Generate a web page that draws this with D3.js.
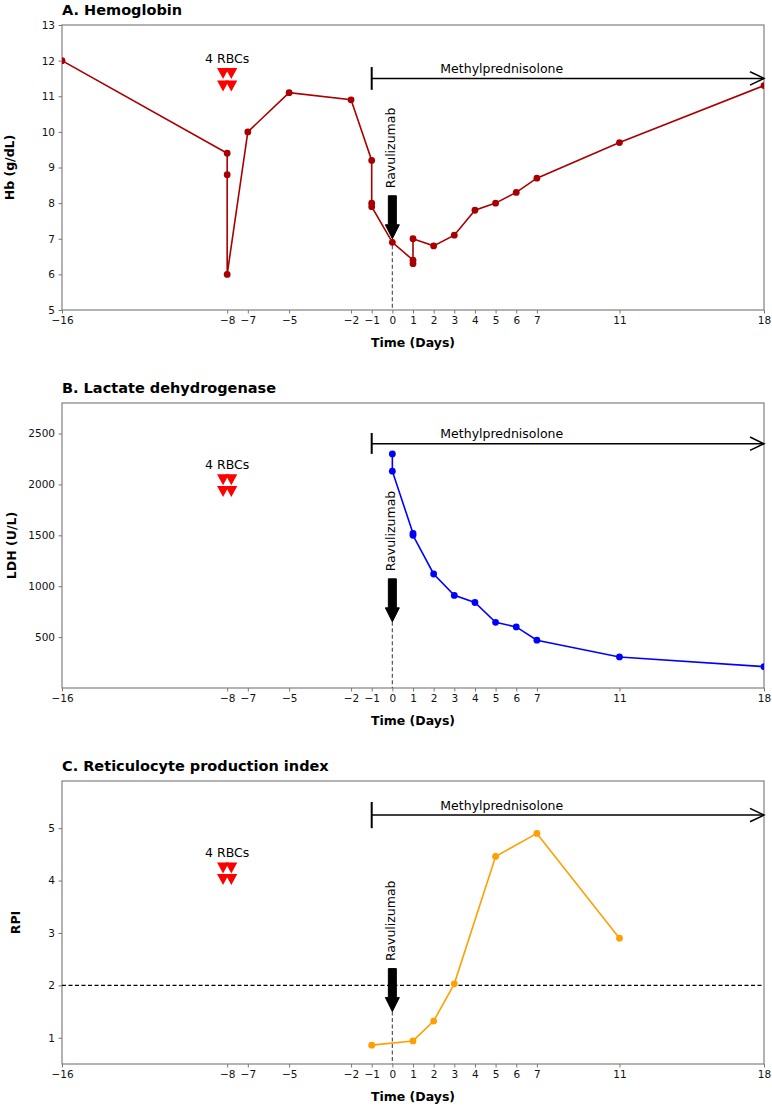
<!DOCTYPE html>
<html>
<head>
<meta charset="utf-8">
<script src="https://cdn.jsdelivr.net/npm/d3@7/dist/d3.min.js"></script>
<style>
  html, body { margin: 0; padding: 0; background: #fff; }
  svg { display: block; font-family: "DejaVu Sans", sans-serif; }
</style>
</head>
<body>
<svg id="chart" width="772" height="1106"></svg>
<script>
// ---------- data ----------
const xTicks = [-16, -8, -7, -5, -2, -1, 0, 1, 2, 3, 4, 5, 6, 7, 11, 18];

const hbDays   = [-16, -8, -8, -8, -7, -5, -2, -1, -1, -1, 0, 1, 1, 1, 2, 3, 4, 5, 6, 7, 11, 18];
const hbValues = [12.0, 9.4, 8.8, 6.0, 10.0, 11.1, 10.9, 9.2, 8.0, 7.9, 6.9, 6.4, 6.3, 7.0, 6.8, 7.1, 7.8, 8.0, 8.3, 8.7, 9.7, 11.3];

const ldhDays   = [0, 0, 1, 1, 2, 3, 4, 5, 6, 7, 11, 18];
const ldhValues = [2300, 2130, 1520, 1500, 1120, 910, 840, 645, 600, 470, 305, 210];

const rpiDays   = [-1, 1, 2, 3, 5, 7, 11];
const rpiValues = [0.86, 0.94, 1.32, 2.03, 4.46, 4.90, 2.90];

const panelTitles = ["A. Hemoglobin", "B. Lactate dehydrogenase", "C. Reticulocyte production index"];
const yLabels     = ["Hb (g/dL)", "LDH (U/L)", "RPI"];
const yDomains    = [[5, 13], [0, 2800], [0.5, 5.9]];
const yTickSets   = [[5, 6, 7, 8, 9, 10, 11, 12, 13], [500, 1000, 1500, 2000, 2500], [1, 2, 3, 4, 5]];

// annotations
const mpStart = -1, mpEnd = 18;                 // Methylprednisolone period (days)
const mpLevels = [11.5, 2400, 5.25];            // arrow level per panel
const mpBars   = [[11.18, 11.82], [2300, 2505], [5.0, 5.5]];
const mpLabelDay = 5.3;
const rbcDay = -8;
const rbcDayOffsets = [-0.2, 0.2];
const rbcRows = [[11.65, 11.3], [2050, 1935], [4.25, 4.03]];
const ravDay = 0;
const ravTips = [7.0, 650, 1.5];
const rpiThreshold = 2;

// ---------- layout ----------
const W = 772;
const left = 62, right = 764;
const panels = [
  {top: 25,  bottom: 310, color: "#a80000", days: hbDays,  values: hbValues},
  {top: 403, bottom: 688, color: "#0000ff", days: ldhDays, values: ldhValues},
  {top: 781, bottom: 1064, color: "#ffa000", days: rpiDays, values: rpiValues}
];
const yLabelX = [9.5, 11.3, 15];

const svg = d3.select("#chart");
const x = d3.scaleLinear().domain([-16, 18]).range([left, right]);
const fmt = d3.format("");

panels.forEach((p, i) => {
  const y = d3.scaleLinear().domain(yDomains[i]).range([p.bottom, p.top]);
  const g = svg.append("g");

  const clipId = "clip" + i;
  svg.append("clipPath").attr("id", clipId).append("rect")
    .attr("x", left).attr("y", p.top).attr("width", right - left).attr("height", p.bottom - p.top);

  // title
  g.append("text").attr("x", left).attr("y", p.top - 10.5)
    .attr("font-size", 14.5).attr("font-weight", "bold").attr("fill", "#000")
    .text(panelTitles[i]);

  // axes
  const xa = g.append("g").attr("transform", `translate(0,${p.bottom})`)
    .call(d3.axisBottom(x).tickValues(xTicks).tickSize(3.5).tickPadding(3.5).tickFormat(fmt));
  const ya = g.append("g").attr("transform", `translate(${left},0)`)
    .call(d3.axisLeft(y).tickValues(yTickSets[i]).tickSize(3.5).tickPadding(3.5).tickFormat(fmt));
  [xa, ya].forEach(a => {
    a.select(".domain").remove();
    a.selectAll(".tick line").attr("stroke", "#666").attr("stroke-width", 0.9);
    a.selectAll(".tick text").attr("font-size", 10.5).attr("fill", "#111")
      .attr("font-family", "DejaVu Sans, sans-serif");
  });

  // frame
  g.append("rect").attr("x", left).attr("y", p.top)
    .attr("width", right - left).attr("height", p.bottom - p.top)
    .attr("fill", "none").attr("stroke", "#808080").attr("stroke-width", 1.2);

  // axis labels
  g.append("text").attr("x", (left + right) / 2).attr("y", p.bottom + 37)
    .attr("text-anchor", "middle").attr("font-size", 12.5).attr("font-weight", "bold")
    .text("Time (Days)");
  g.append("text")
    .attr("transform", `translate(${yLabelX[i] + 4.5},${(p.top + p.bottom) / 2}) rotate(-90)`)
    .attr("text-anchor", "middle").attr("font-size", 12.5).attr("font-weight", "bold")
    .text(yLabels[i]);

  // threshold line (RPI)
  if (i === 2) {
    g.append("line").attr("x1", left).attr("x2", right)
      .attr("y1", y(rpiThreshold)).attr("y2", y(rpiThreshold))
      .attr("stroke", "#000").attr("stroke-width", 1.2).attr("stroke-dasharray", "4,2.5");
  }

  // Ravulizumab dashed line + arrow + label
  const rx = x(ravDay), tipY = y(ravTips[i]);
  g.append("line").attr("x1", rx).attr("x2", rx).attr("y1", tipY).attr("y2", p.bottom)
    .attr("stroke", "#555").attr("stroke-width", 1.2).attr("stroke-dasharray", "4,2.5");
  const L = 43, headL = 14, shaftW = 4, headW = 7;
  const arrowPts = [
    [rx - shaftW, tipY - L], [rx + shaftW, tipY - L], [rx + shaftW, tipY - headL],
    [rx + headW, tipY - headL], [rx, tipY], [rx - headW, tipY - headL], [rx - shaftW, tipY - headL]
  ];
  g.append("path").attr("d", d3.line()(arrowPts) + "Z")
    .attr("fill", "#000").attr("stroke", "#000").attr("stroke-width", 1).attr("stroke-linejoin", "round");
  g.append("text")
    .attr("transform", `translate(${rx + 3},${tipY - L - 7.5}) rotate(-90)`)
    .attr("font-size", 12.5).attr("fill", "#000").text("Ravulizumab");

  // Methylprednisolone arrow
  const my = y(mpLevels[i]);
  g.append("line").attr("x1", x(mpStart)).attr("x2", x(mpEnd)).attr("y1", my).attr("y2", my)
    .attr("stroke", "#000").attr("stroke-width", 1.5);
  g.append("line").attr("x1", x(mpStart)).attr("x2", x(mpStart))
    .attr("y1", y(mpBars[i][0])).attr("y2", y(mpBars[i][1]))
    .attr("stroke", "#000").attr("stroke-width", 2);
  g.append("path")
    .attr("d", d3.line()([[x(mpEnd) - 14, my - 6.7], [x(mpEnd), my], [x(mpEnd) - 14, my + 6.7]]))
    .attr("fill", "none").attr("stroke", "#000").attr("stroke-width", 1.5);
  g.append("text").attr("x", x(mpLabelDay)).attr("y", my - 5.5)
    .attr("text-anchor", "middle").attr("font-size", 12.5).text("Methylprednisolone");

  // RBC transfusion markers
  const tri = "M-6,-5L6,-5L0,6Z";
  rbcRows[i].forEach(v => {
    rbcDayOffsets.forEach(o => {
      g.append("path").attr("d", tri)
        .attr("transform", `translate(${x(rbcDay + o)},${y(v)})`)
        .attr("fill", "#ff0000");
    });
  });
  g.append("text").attr("x", x(rbcDay)).attr("y", y(rbcRows[i][0]) - 10.5)
    .attr("text-anchor", "middle").attr("font-size", 12.5).text("4 RBCs");

  // data line + points
  const pts = p.days.map((d, k) => [d, p.values[k]]);
  const dg = g.append("g").attr("clip-path", `url(#${clipId})`);
  dg.append("path").datum(pts)
    .attr("d", d3.line().x(d => x(d[0])).y(d => y(d[1])))
    .attr("fill", "none").attr("stroke", p.color).attr("stroke-width", 1.6);
  dg.selectAll("circle").data(pts).join("circle")
    .attr("cx", d => x(d[0])).attr("cy", d => y(d[1])).attr("r", 3.4)
    .attr("fill", p.color);
});
</script>
</body>
</html>
